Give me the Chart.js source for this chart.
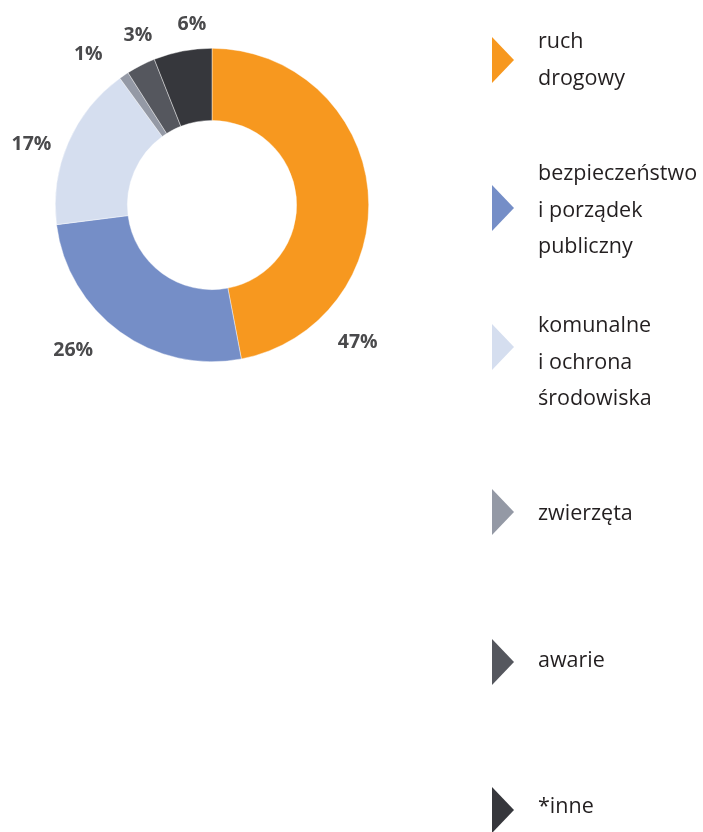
<!DOCTYPE html>
<html>
<head>
<meta charset="utf-8">
<script src="https://cdn.jsdelivr.net/npm/chart.js@4.4.1/dist/chart.umd.min.js"></script>
<style>
  html, body { margin: 0; padding: 0; background: #ffffff; }
  #wrap { position: relative; width: 703px; height: 832px; }
</style>
</head>
<body>
<div id="wrap"><canvas id="donutCanvas"></canvas></div>
<script>
// chart data
const categories = [
    ['ruch', 'drogowy'],
    ['bezpieczeństwo', 'i porządek', 'publiczny'],
    ['komunalne', 'i ochrona', 'środowiska'],
    ['zwierzęta'],
    ['awarie'],
    ['*inne']
];
const shares = [47, 26, 17, 1, 3, 6];
const sliceColors = ['#f7981f', '#758ec7', '#d5deef', '#9499a5', '#55575e', '#36373c'];

// where along each arc the percent label sits (0 = start, 1 = end) and how far out
const labelAlong = [0.787, 0.583, 0.425, -0.89, 0.824, 0.708];
const labelOut = [43, 44, 34, 39, 29, 26];

// right-hand legend layout
const legendTextTop = [42, 174, 326, 514, 661, 807];
const legendMarkY = [60, 208, 347, 512, 662, 810];
const legendLineH = 36.5;

// draw the percentages round the ring
const percentLabels = {
    id: 'percentLabels',
    afterDatasetsDraw(chart) {
        const ctx = chart.ctx;
        const meta = chart.getDatasetMeta(0);
        ctx.save();
        ctx.font = 'bold 19.5px "Open Sans", sans-serif';
        ctx.fillStyle = '#4a4a4c';
        ctx.textAlign = 'center';
        ctx.textBaseline = 'middle';
        meta.data.forEach(function(arc, i) {
            const p = arc.getProps(['x', 'y', 'startAngle', 'endAngle', 'outerRadius'], true);
            const a = p.startAngle + (p.endAngle - p.startAngle) * labelAlong[i];
            const r = p.outerRadius + labelOut[i];
            ctx.fillText(shares[i] + '%', p.x + Math.cos(a) * r, p.y + Math.sin(a) * r + 1);
        });
        ctx.restore();
    }
};

// triangle legend on the right
const sideLegend = {
    id: 'sideLegend',
    afterDraw(chart) {
        const ctx = chart.ctx;
        ctx.save();
        categories.forEach(function(lines, i) {
            const my = legendMarkY[i];
            ctx.fillStyle = sliceColors[i];
            ctx.beginPath();
            ctx.moveTo(492, my - 23);
            ctx.lineTo(514, my);
            ctx.lineTo(492, my + 23);
            ctx.closePath();
            ctx.fill();

            ctx.font = '21.5px "Open Sans", sans-serif';
            ctx.fillStyle = '#231f20';
            ctx.textAlign = 'left';
            ctx.textBaseline = 'middle';
            lines.forEach(function(line, j) {
                ctx.fillText(line, 538, legendTextTop[i] + j * legendLineH);
            });
        });
        ctx.restore();
    }
};

const donutCtx = document.getElementById('donutCanvas');
new Chart(donutCtx, {
    type: 'doughnut',
    data: {
        labels: categories.map(function(c) { return c.join(' '); }),
        datasets: [{
            data: shares,
            backgroundColor: sliceColors,
            borderColor: 'rgba(255,255,255,0.7)',
            borderWidth: 0.6
        }]
    },
    options: {
        responsive: true,
        maintainAspectRatio: false,
        animation: false,
        cutout: '54%',
        layout: {
            padding: { left: 55, top: 48, right: 334, bottom: 470 }
        },
        plugins: {
            legend: { display: false },
            tooltip: { enabled: false }
        }
    },
    plugins: [percentLabels, sideLegend]
});
</script>
</body>
</html>
